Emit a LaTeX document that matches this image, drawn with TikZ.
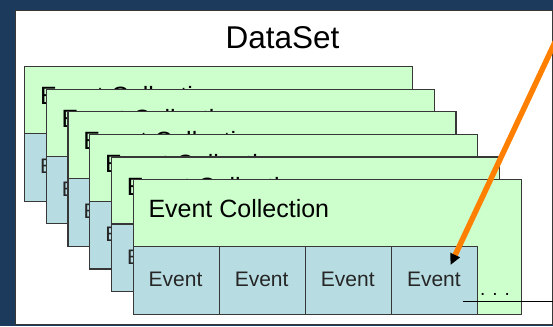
\documentclass[tikz,border=0pt]{standalone}
\usepackage{fontspec}
\setmainfont{Liberation Sans}
\usetikzlibrary{arrows.meta}
\definecolor{navy}{RGB}{27,58,92}
\definecolor{boxgreen}{RGB}{204,255,204}
\definecolor{boxblue}{RGB}{183,221,227}
\definecolor{edgegray}{RGB}{55,55,55}
\definecolor{arroworange}{RGB}{255,128,0}
\definecolor{celltextcol}{RGB}{38,38,38}
\tikzset{
  panelbox/.style={draw=edgegray, line width=1.4pt, fill=white, inner sep=0pt, minimum width=537pt, minimum height=314pt, anchor=north west},
  collbox/.style={draw=edgegray, line width=1.2pt, fill=boxgreen, inner sep=0pt, minimum width=388pt, minimum height=134.5pt, anchor=north west},
  cellbox/.style={draw=edgegray, line width=1.2pt, fill=boxblue, inner sep=0pt, minimum width=86.1pt, minimum height=67.5pt, anchor=north west},
  titletext/.style={inner sep=0pt, anchor=base west, font=\fontsize{25}{30}\selectfont, text=black},
  celltext/.style={inner sep=0pt, anchor=base, font=\fontsize{21}{25}\selectfont, text=celltextcol},
  headtext/.style={inner sep=0pt, anchor=base, font=\fontsize{31.5}{36}\selectfont, text=black},
  dotstext/.style={inner sep=0pt, anchor=base, font=\fontsize{19}{22}\selectfont, text=black},
  thinline/.style={draw=black, line width=0.9pt},
  orangearrow/.style={draw=arroworange, line width=5.5pt, -{Triangle[length=11pt,width=10pt,color=black]}}
}
\begin{document}
\begin{tikzpicture}[x=1pt,y=-1pt]
\useasboundingbox (0,0) rectangle (553,326);
\clip (0,0) rectangle (553,326);
\fill[navy] (0,0) rectangle (553,326);
\node[panelbox] (panel) at (14.5,10) {};
\node[headtext] (dataset) at (282.5,48.3) {DataSet};
\foreach \k in {0,...,5}{
  \pgfmathsetmacro\lx{24+21.7*\k}
  \pgfmathsetmacro\ty{66+22.6*\k}
  \node[collbox] (coll\k) at (\lx,\ty) {};
  \node[titletext] (title\k) at (\lx+15.8,\ty+38.6) {Event Collection};
  \foreach \c in {0,...,3}{
    \node[cellbox] (cell\k\c) at (\lx+86.1*\c,\ty+67) {};
    \node[celltext] (ev\k\c) at (\lx+86.1*\c+43.05,\ty+107.7) {Event};
  }
}
\node[dotstext] (dots) at (495,295.5) {. . .};
\coordinate (lineL) at (462.7,301.7);
\coordinate (lineR) at (553,301.7);
\draw[thinline] (lineL) -- (lineR);
\coordinate (arrowstart) at (565.4,20);
\coordinate (arrowtip) at (450.5,265);
\draw[orangearrow] (arrowstart) -- (arrowtip);
\end{tikzpicture}
\end{document}
